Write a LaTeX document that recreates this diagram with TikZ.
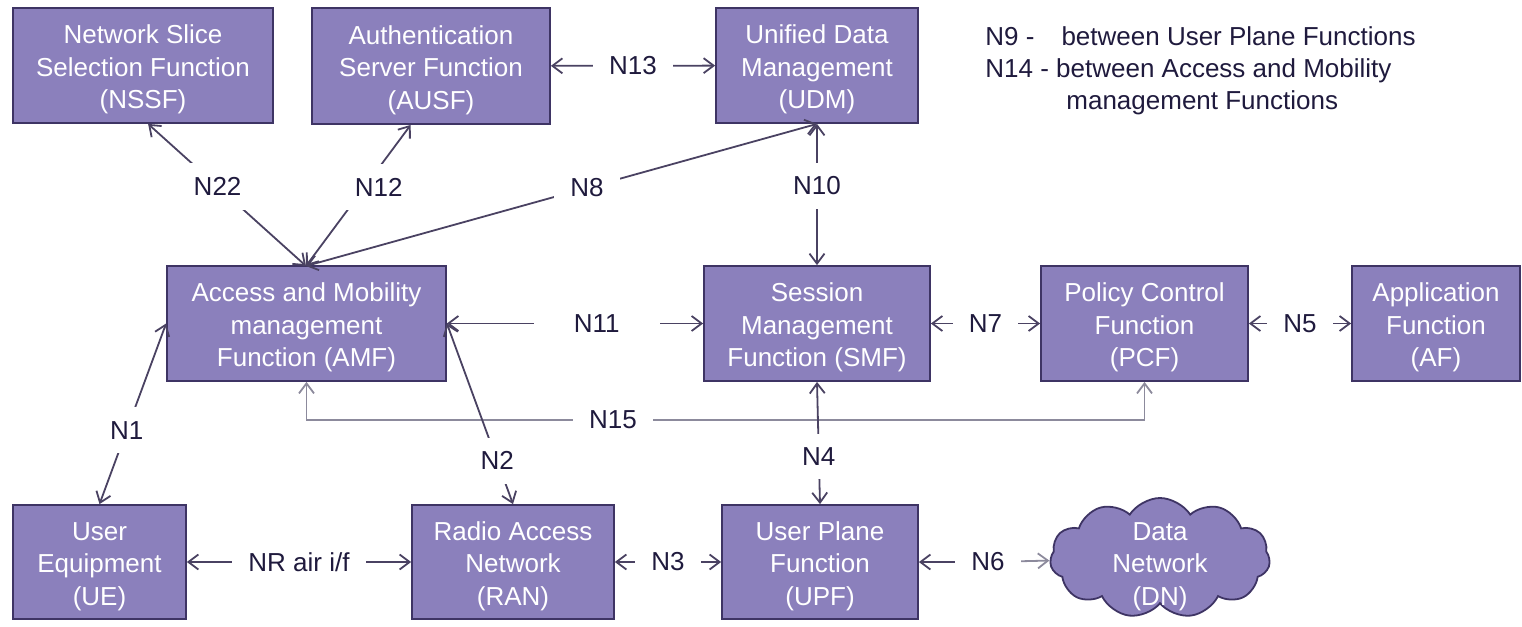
\documentclass[tikz,border=0pt]{standalone}
\usepackage{fontspec}
\setmainfont{Liberation Sans}
\usetikzlibrary{arrows.meta,shapes.symbols}
\definecolor{boxfill}{HTML}{8B80BC}
\definecolor{boxline}{HTML}{3E3464}
\definecolor{wire}{HTML}{4A4262}
\definecolor{wirelight}{HTML}{8C8A9C}
\definecolor{labtext}{HTML}{1F1A3D}

\begin{document}
\begin{tikzpicture}[x=0.5pt,y=-0.5pt,
    nf/.style={draw=boxline,fill=boxfill,text=white,align=center,inner sep=0pt,line width=0.9pt,
      text height=46.3pt,text depth=3pt,font=\fontsize{13}{16.3}\selectfont},
    ref/.style={fill=white,text=labtext,inner xsep=8pt,inner ysep=7pt,font=\fontsize{13}{16}\selectfont},
    legend/.style={anchor=base west,inner sep=0pt,text=labtext,font=\fontsize{13}{16}\selectfont},
    every edge/.style={draw=wire,line width=0.9pt},
    >={Straight Barb[length=5pt,width=7.5pt]}]
    \useasboundingbox (0,0) rectangle (1522,627);

    \node[nf,minimum width=130pt,minimum height=57.5pt] (1) at (143,65.5) {Network Slice\\Selection Function\\(NSSF)};
    \node[nf,minimum width=119pt,minimum height=58pt] (2) at (431,66) {Authentication\\Server Function\\(AUSF)};
    \node[nf,minimum width=101pt,minimum height=57.5pt] (3) at (817,65.5) {Unified Data\\Management\\(UDM)};
    \node[nf,minimum width=139.5pt,minimum height=57.5pt] (4) at (306.5,323.5) {Access and Mobility\\management\\Function (AMF)};
    \node[nf,minimum width=113pt,minimum height=57.5pt] (5) at (817,323.5) {Session\\Management\\Function (SMF)};
    \node[nf,minimum width=103.5pt,minimum height=57.5pt] (6) at (1144.5,323.5) {Policy Control\\Function\\(PCF)};
    \node[nf,minimum width=84pt,minimum height=57.5pt] (7) at (1436,323.5) {Application\\Function\\(AF)};
    \node[nf,minimum width=86.5pt,minimum height=57pt] (8) at (99.5,562) {User\\Equipment\\(UE)};
    \node[nf,minimum width=101pt,minimum height=57pt] (9) at (513,562) {Radio Access\\Network\\(RAN)};
    \node[nf,minimum width=98pt,minimum height=57pt] (10) at (820,562) {User Plane\\Function\\(UPF)};
    \node[nf,text height=0pt,text depth=0pt,cloud,cloud puffs=11,cloud puff arc=115,cloud ignores aspect,
      minimum width=110pt,minimum height=60pt] (11) at (1160,558) {};
    \node[nf,draw=none,fill=none] (11t) at (1160,562) {Data\\Network\\(DN)};

    \coordinate (12) at (306,266);
    \coordinate (13) at (613,420);

    \node[legend] (16) at (985,45) {N9 -\hspace{13.5pt}between User Plane Functions};
    \node[legend] (17) at (985,77) {N14 - between Access and Mobility};
    \node[legend] (18) at (1066,109) {management Functions};

    \draw[wirelight,line width=0.9pt,<->] (4.south) |- (13) -| (6.south);
    \node[ref] (14) at (13) {N15};

    \path[every node/.style={ref}]
    (2) [<->] edge node {N13} (3)
    (1.-85) [<->] edge node[pos=0.44] {N22} (12)
    (2.-109) [<->] edge node[pos=0.44,xshift=7pt] {N12} (12)
    (3.south) [<->] edge node[pos=0.45] {N8} (12)
    (3) [<->] edge node[pos=0.44] {N10} (5)
    (4) [<->] edge node[pos=0.585,inner xsep=20pt] {N11} (5)
    (5) [<->] edge node {N7} (6)
    (6) [<->] edge node {N5} (7)
    (4.west) [<->] edge node[pos=0.59] {N1} (8.north)
    (4.east) [<->] edge node[pos=0.76] {N2} (9.north)
    (8) [<->] edge node {NR air i/f} (9)
    (9) [<->] edge node {N3} (10)
    (10.north) [<->] edge node[pos=0.39] {N4} (5.south);

    \node[ref] (15) at (988,562) {N6};
    \path
    (15) [->] edge (10)
    (15) [->] edge [draw=wirelight] (11);
\end{tikzpicture}
\end{document}
